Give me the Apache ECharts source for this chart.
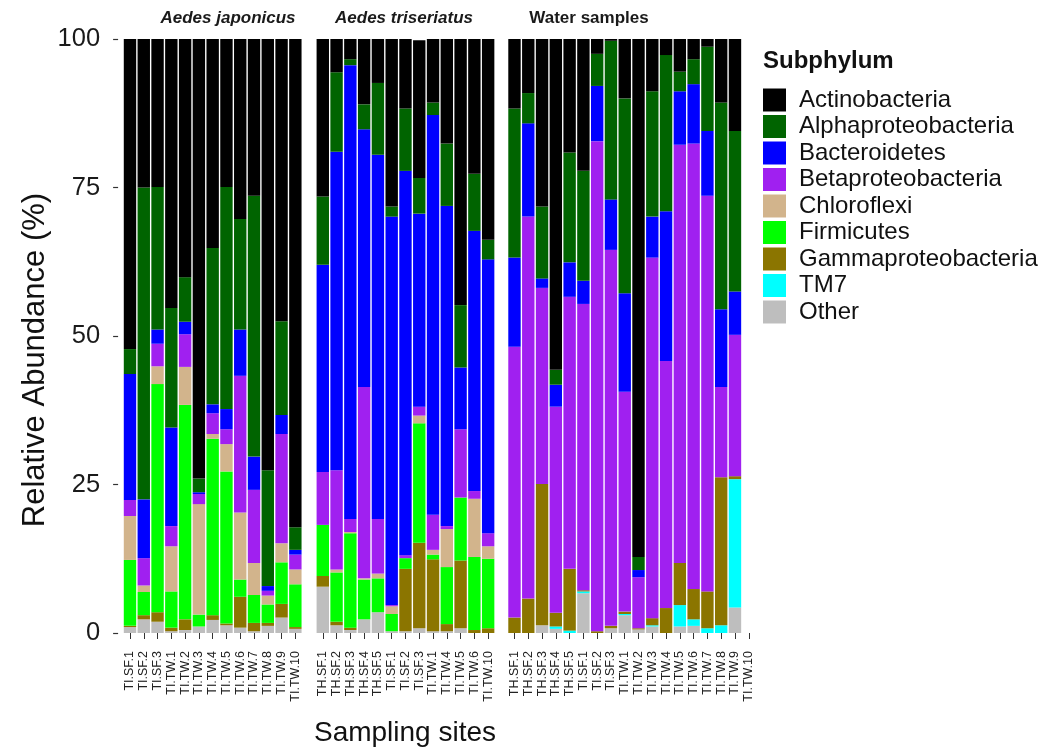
<!DOCTYPE html>
<html><head><meta charset="utf-8">
<script src="https://cdn.jsdelivr.net/npm/echarts@6/dist/echarts.min.js"></script>
<style>html,body{margin:0;padding:0;background:#fff}#c{width:1057px;height:749px}</style>
</head><body><div id="c"></div>
<script>
// ---- categories ----
const japSites = ['TI.SF.1','TI.SF.2','TI.SF.3','TI.TW.1','TI.TW.2','TI.TW.3','TI.TW.4','TI.TW.5','TI.TW.6','TI.TW.7','TI.TW.8','TI.TW.9','TI.TW.10'];
const triSites = ['TH.SF.1','TH.SF.2','TH.SF.3','TH.SF.4','TH.SF.5','TI.SF.1','TI.SF.2','TI.SF.3','TI.TW.1','TI.TW.4','TI.TW.5','TI.TW.6','TI.TW.10'];
const watSites = ['TH.SF.1','TH.SF.2','TH.SF.3','TH.SF.4','TH.SF.5','TI.SF.1','TI.SF.2','TI.SF.3','TI.TW.1','TI.TW.2','TI.TW.3','TI.TW.4','TI.TW.5','TI.TW.6','TI.TW.7','TI.TW.8','TI.TW.9','TI.TW.10'];
const facetNames = ['Aedes japonicus','Aedes triseriatus','Water samples'];
const phyla = ['Actinobacteria','Alphaproteobacteria','Bacteroidetes','Betaproteobacteria','Chloroflexi','Firmicutes','Gammaproteobacteria','TM7','Other'];
const yTicks = [0,25,50,75,100];

// ---- Aedes japonicus (%) ----
const japOther = [1.0,2.3,1.9,0.3,0.5,1.1,2.2,1.3,0.9,0.3,1.2,2.6,0.7];
const japTM7   = [0,0,0,0,0,0,0,0,0,0,0,0,0];
const japGamma = [0.2,0.7,1.6,0.6,1.8,0,0.8,0.3,5.2,1.4,0.5,2.3,0.3];
const japFirm  = [11.1,3.9,38.4,6.1,36.1,2.0,29.7,25.6,2.9,4.7,3.1,7.0,7.2];
const japChlo  = [7.4,1.1,3.0,7.6,6.4,18.6,0.8,4.6,11.3,5.4,1.5,3.2,2.5];
const japBeta  = [2.7,4.6,3.8,3.4,5.5,1.7,3.5,2.5,23.0,12.3,0.8,18.4,2.5];
const japBact  = [21.2,9.9,2.4,16.6,2.1,0.3,1.5,3.4,7.8,5.6,0.8,3.2,0.8];
const japAlpha = [4.2,52.5,24.0,20.1,7.5,2.3,26.3,37.4,18.6,43.9,19.5,15.8,3.8];
const japActi  = [52.2,25.0,24.9,45.3,40.1,74.0,35.8,24.9,30.3,26.4,72.6,47.5,82.2];

// ---- Aedes triseriatus (%) ----
const triOther = [7.8,1.3,0.5,2.3,3.5,0.3,0.3,0.8,0.3,0.3,0.8,0,0];
const triTM7   = [0,0,0,0,0,0,0,0,0,0,0,0,0];
const triGamma = [1.8,0.6,0.4,0,0,0,10.5,14.4,12.1,1.2,11.4,0.5,0.8];
const triFirm  = [8.6,8.3,15.9,6.7,5.7,2.9,1.8,20.1,0.8,9.6,10.6,12.3,11.7];
const triChlo  = [0,0.5,0.2,0.2,0.8,1.3,0,1.3,0.8,6.4,0,9.8,2.1];
const triBeta  = [8.9,16.7,2.2,32.2,9.2,0.2,0.5,1.5,5.9,0.5,11.5,1.3,2.2];
const triBact  = [34.9,53.6,76.4,43.4,61.3,65.4,64.7,32.5,67.3,53.9,10.4,43.8,46.1];
const triAlpha = [11.5,13.4,1.0,4.2,12.1,1.7,10.5,6.0,2.1,10.5,10.5,9.6,3.3];
const triActi  = [26.5,5.6,3.4,11.0,7.4,28.2,11.7,23.2,10.7,17.6,44.8,22.7,33.8];

// ---- Water samples (%) (17 bars; the last site, TI.TW.10, has no bar) ----
const watOther = [0,0,1.3,0.7,0,6.7,0,0.8,3.0,0.6,1.1,0,1.1,1.2,0,0,4.3];
const watTM7   = [0,0,0,0.4,0.4,0.3,0,0,0.2,0,0.2,0,3.6,1.1,0.8,1.3,21.6];
const watGamma = [2.6,5.8,23.8,2.3,10.4,0.2,0.3,0.4,0.4,0.2,1.2,4.2,7.1,5.1,6.2,24.9,0.5];
const watFirm  = [0,0,0,0,0,0,0,0,0,0,0,0,0,0,0,0,0];
const watChlo  = [0,0,0,0,0,0,0,0,0,0,0,0,0,0,0,0,0];
const watBeta  = [45.6,64.3,33.0,34.7,45.8,48.2,82.5,63.3,37.0,8.6,60.7,41.6,70.4,75.0,66.6,15.2,23.8];
const watBact  = [15.0,15.7,1.6,3.7,5.8,3.9,9.3,8.5,16.6,1.2,6.9,25.2,9.0,10.0,10.9,13.1,7.3];
const watAlpha = [25.1,5.1,12.1,2.5,18.5,18.5,5.4,26.7,32.8,2.2,21.1,26.3,3.3,4.2,14.2,34.8,27.0];
const watActi  = [11.7,9.1,28.2,55.7,19.1,22.2,2.5,0.3,10.0,87.2,8.8,2.7,5.5,3.4,1.3,10.7,15.5];

const colors = {
  'Actinobacteria':'#000000','Alphaproteobacteria':'#006400','Bacteroidetes':'#0000FF',
  'Betaproteobacteria':'#A020F0','Chloroflexi':'#D2B48C','Firmicutes':'#00FF00',
  'Gammaproteobacteria':'#8B7500','TM7':'#00FFFF','Other':'#BEBEBE'
};

// bottom-to-top stacking (Other at bottom, Actinobacteria on top)
const facets = [
  {sites: japSites, data: {'Other':japOther,'TM7':japTM7,'Gammaproteobacteria':japGamma,'Firmicutes':japFirm,'Chloroflexi':japChlo,'Betaproteobacteria':japBeta,'Bacteroidetes':japBact,'Alphaproteobacteria':japAlpha,'Actinobacteria':japActi}},
  {sites: triSites, data: {'Other':triOther,'TM7':triTM7,'Gammaproteobacteria':triGamma,'Firmicutes':triFirm,'Chloroflexi':triChlo,'Betaproteobacteria':triBeta,'Bacteroidetes':triBact,'Alphaproteobacteria':triAlpha,'Actinobacteria':triActi}},
  {sites: watSites, data: {'Other':watOther,'TM7':watTM7,'Gammaproteobacteria':watGamma,'Firmicutes':watFirm,'Chloroflexi':watChlo,'Betaproteobacteria':watBeta,'Bacteroidetes':watBact,'Alphaproteobacteria':watAlpha,'Actinobacteria':watActi}}
];
const stackOrder = phyla.slice().reverse();

const FONT = 'Liberation Sans, Arial, sans-serif';
const step = 13.78;
const grids = [
  {left: 123.1, top: 39, width: 13*step, height: 594},
  {left: 315.9, top: 39, width: 13*step, height: 594},
  {left: 507.6, top: 39, width: 18*step, height: 594}
];

const xAxes = facets.map((f,i)=>({
  type:'category', gridIndex:i, data:f.sites, offset:10,
  axisLine:{show:false},
  axisTick:{show:true, alignWithLabel:true, length:6, lineStyle:{color:'#333', width:1}},
  axisLabel:{rotate:90, fontSize:12.5, color:'#222', fontFamily:FONT, margin:8, interval:0}
}));
const yAxes = facets.map((f,i)=>({
  type:'value', gridIndex:i, min:0, max:100, interval:25, offset:5, show:i===0,
  splitLine:{show:false}, axisLine:{show:false},
  axisTick:{show:i===0, length:5, lineStyle:{color:'#333', width:1.2}},
  axisLabel:{show:i===0, fontSize:25.5, color:'#1a1a1a', fontFamily:FONT, margin:18,
    formatter: v => yTicks.includes(v) ? String(v) : ''}
}));

const series = [];
facets.forEach((f,i)=>{
  stackOrder.forEach(p=>{
    series.push({
      name:p, type:'bar', xAxisIndex:i, yAxisIndex:i, stack:'s'+i,
      data:f.data[p], barCategoryGap:'10%',
      itemStyle:{color:colors[p]}, emphasis:{disabled:true}
    });
  });
});

const chart = echarts.init(document.getElementById('c'), null, {renderer:'canvas'});
chart.setOption({
  animation:false,
  grid:grids, xAxis:xAxes, yAxis:yAxes, series:series,
  legend:{
    data:phyla, orient:'vertical', left:763, top:88, padding:0,
    itemWidth:23, itemHeight:23, itemGap:2.5, icon:'rect',
    selectedMode:false,
    textStyle:{fontSize:24, lineHeight:24, color:'#111', fontFamily:FONT, padding:[0,0,0,8]}
  },
  graphic:[
    {type:'text', left:763, top:49, style:{text:'Subphylum', font:'bold 24px '+FONT, fill:'#111'}},
    {type:'text', x:228, y:18, style:{text:facetNames[0], font:'italic bold 17px '+FONT, fill:'#1a1a1a', textAlign:'center', textVerticalAlign:'middle'}},
    {type:'text', x:404, y:18, style:{text:facetNames[1], font:'italic bold 17px '+FONT, fill:'#1a1a1a', textAlign:'center', textVerticalAlign:'middle'}},
    {type:'text', x:589, y:18, style:{text:facetNames[2], font:'bold 17px '+FONT, fill:'#1a1a1a', textAlign:'center', textVerticalAlign:'middle'}},
    {type:'text', x:405, y:733, style:{text:'Sampling sites', font:'28px '+FONT, fill:'#111', textAlign:'center', textVerticalAlign:'middle'}},
    {type:'text', x:35, y:360, rotation:Math.PI/2, style:{text:'Relative Abundance (%)', font:'31px '+FONT, fill:'#111', textAlign:'center', textVerticalAlign:'middle'}}
  ]
});
</script></body></html>
